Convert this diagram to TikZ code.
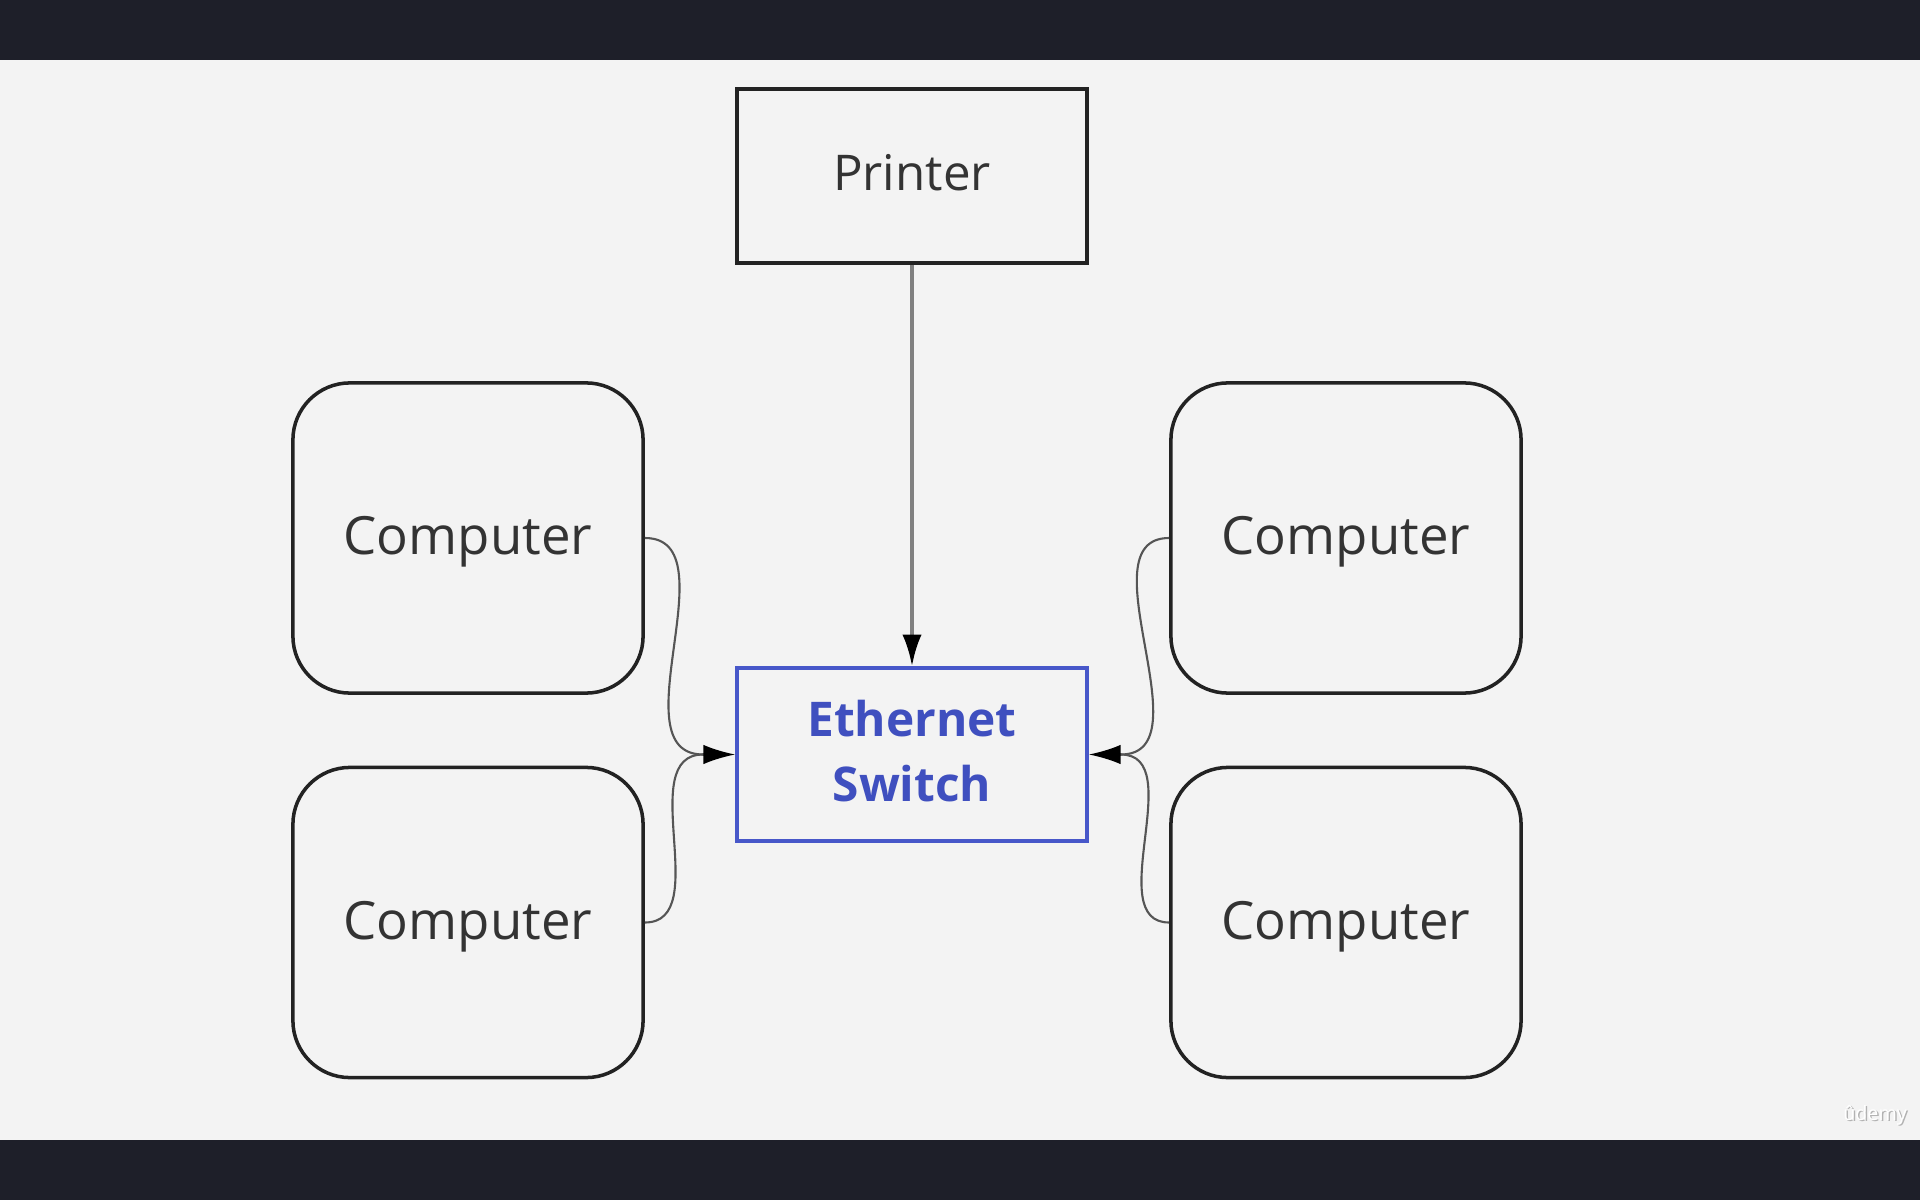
\documentclass[tikz,border=0pt]{standalone}
\usepackage{fontspec}
\setmainfont{Open Sans}
\usetikzlibrary{arrows.meta,calc}
\definecolor{bgc}{HTML}{F3F3F3}
\definecolor{bandc}{HTML}{1E1F29}
\definecolor{boxc}{HTML}{222222}
\definecolor{txtc}{HTML}{333333}
\definecolor{swc}{HTML}{4757C9}
\definecolor{swtxt}{HTML}{3F4FBF}
\definecolor{linec}{HTML}{555555}
\definecolor{vlinec}{HTML}{808080}
\begin{document}
\begin{tikzpicture}[x=0.01cm,y=-0.01cm,
  rectbox/.style={draw=boxc,line width=1pt,minimum width=3.5cm,minimum height=1.74cm,inner sep=0pt,text=txtc,text depth=0.08cm,font=\fontsize{14}{17}\selectfont},
  compbox/.style={draw=boxc,line width=1pt,rounded corners=0.57cm,minimum width=3.5cm,minimum height=3.1cm,inner sep=0pt,text=txtc,text depth=1.3pt,font=\fontsize{15}{18}\selectfont},
  switchbox/.style={draw=swc,line width=1pt,minimum width=3.5cm,minimum height=1.73cm,inner sep=0pt,text=swtxt,align=center,font=\fontsize{13.6}{18.5}\selectfont\bfseries},
  curvelink/.style={draw=linec,line width=0.6pt},
  tipstyle/.style={-{Latex[length=9pt,width=5.5pt,color=black]}}
]
\useasboundingbox (0,0) rectangle (1920,1200);
\fill[bgc] (0,0) rectangle (1920,1200);
\fill[bandc] (0,0) rectangle (1920,60);
\fill[bandc] (0,1140) rectangle (1920,1200);

\node[rectbox] (printer) at (912,176) {Printer};
\node[switchbox,text depth=0.08cm] (sw) at (912,754.5) {Ethernet\\Switch};
\node[compbox] (cl1) at (468,538) {Computer};
\node[compbox] (cl2) at (468,922.5) {Computer};
\node[compbox] (cr1) at (1346,538) {Computer};
\node[compbox] (cr2) at (1346,922.5) {Computer};

\draw[draw=vlinec,line width=1.1pt,tipstyle] (printer.south) -- (sw.north);

\coordinate (lj) at ($(sw.west)+(-32,0)$);
\coordinate (rj) at ($(sw.east)+(32,0)$);
\draw[curvelink] (cl1.east) to[out=0,in=180] (lj);
\draw[curvelink] (cl2.east) to[out=0,in=180] (lj);
\draw[curvelink,tipstyle] (lj) -- (sw.west);
\draw[curvelink] (cr1.west) to[out=180,in=0] (rj);
\draw[curvelink] (cr2.west) to[out=180,in=0] (rj);
\draw[curvelink,tipstyle] (rj) -- (sw.east);

\node[text=black!30,font=\fontsize{5.6}{6}\selectfont] (wmshadow) at (1876.5,1116.5) {ûdemy};
\node[text=white,font=\fontsize{5.6}{6}\selectfont] (wm) at (1875,1115) {ûdemy};
\end{tikzpicture}
\end{document}
